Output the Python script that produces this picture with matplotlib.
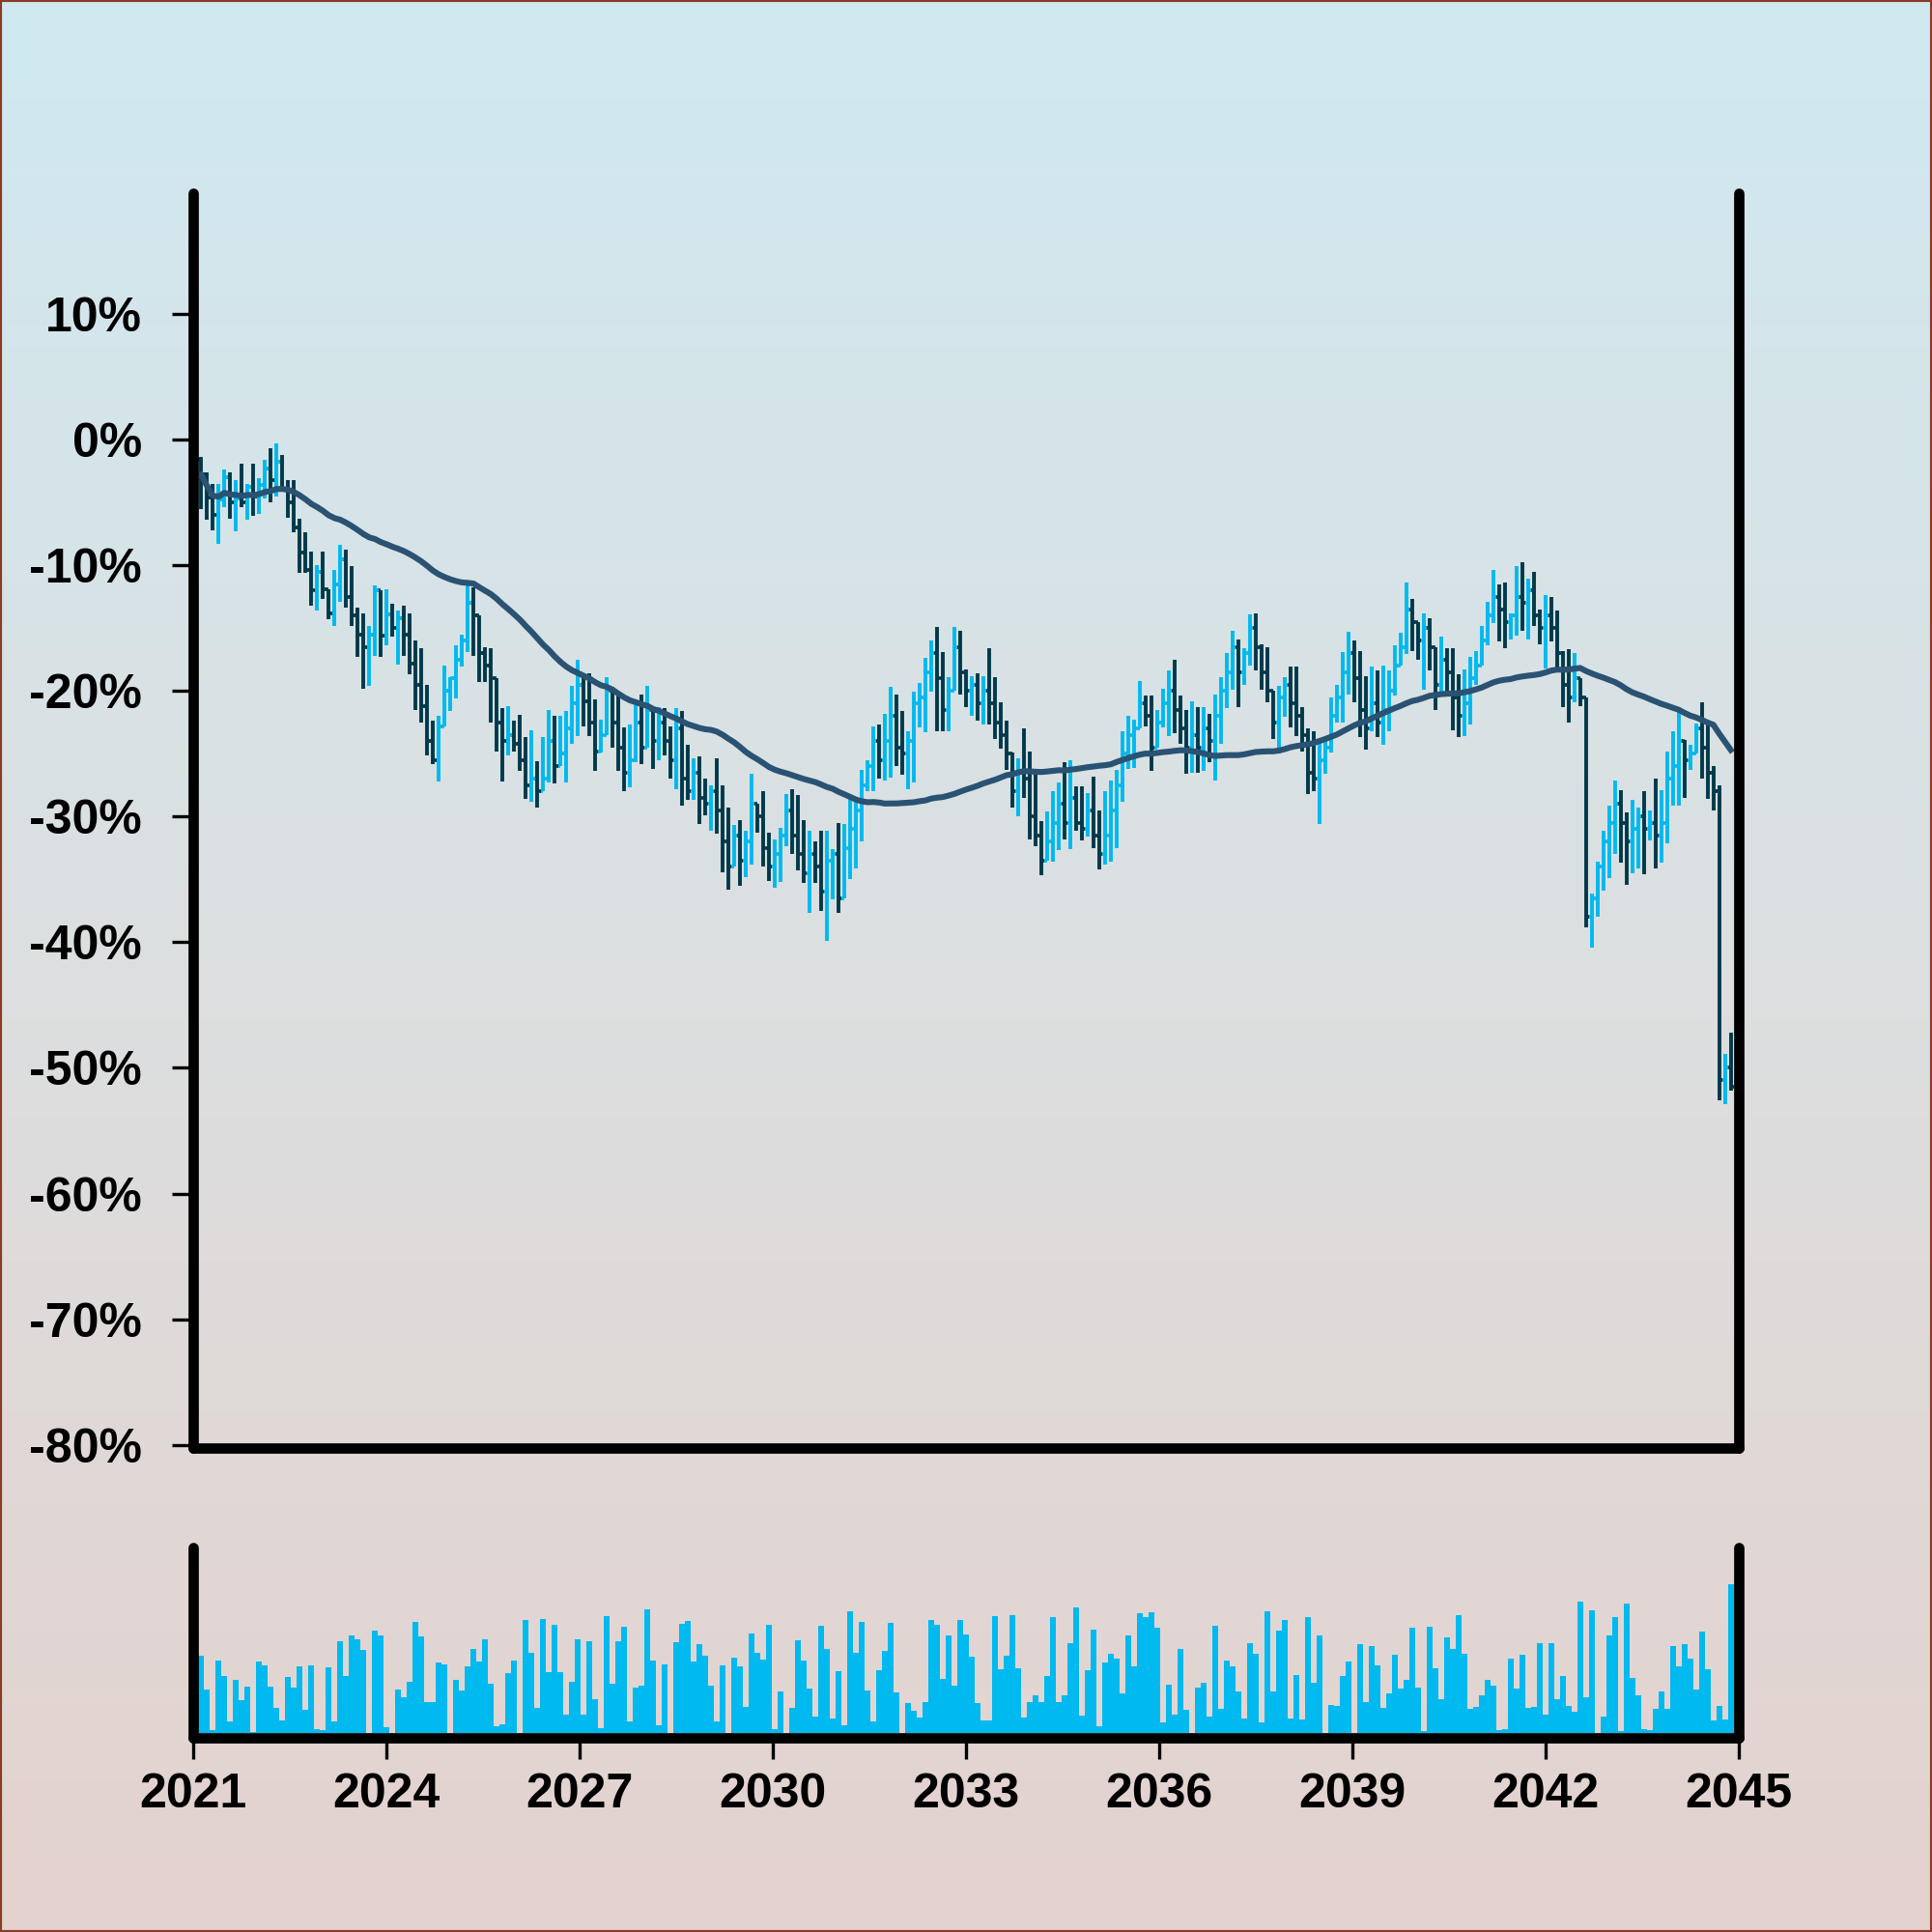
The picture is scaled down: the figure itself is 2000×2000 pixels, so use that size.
import matplotlib
matplotlib.use("Agg")
import matplotlib.pyplot as plt
import matplotlib.colors as mcolors
from matplotlib.patches import Rectangle
import numpy as np
import pandas as pd

plt.rcParams["font.family"] = ["Liberation Sans", "DejaVu Sans"]
plt.rcParams["font.weight"] = "bold"

# monthly-ish OHLC bars, values in % change
first_open = -1.6
close = [
    -2.8, -4.6, -6.0, -4.8, -3.0, -5.0, -4.7, -5.0, -3.8, -4.5,
    -3.6, -2.3, -3.2, -1.8, -3.9, -5.0, -7.0, -9.0, -10.4, -12.0,
    -10.5, -11.9, -13.8, -11.5, -9.5, -12.5, -14.0, -15.5, -16.5, -15.5,
    -12.0, -15.6, -13.9, -15.0, -14.2, -15.5, -17.8, -19.5, -21.2, -24.0,
    -25.5, -22.8, -20.0, -19.0, -17.5, -16.0, -13.0, -14.0, -17.0, -18.0,
    -19.0, -22.5, -24.0, -23.5, -24.2, -25.5, -27.5, -27.0, -28.0, -27.0,
    -24.0, -26.0, -25.0, -23.0, -21.0, -19.5, -20.8, -22.5, -24.8, -23.5,
    -20.0, -22.5, -24.5, -26.5, -25.5, -22.5, -24.5, -21.5, -24.0, -22.5,
    -24.0, -25.5, -23.0, -27.0, -28.0, -26.5, -28.5, -29.0, -28.0, -29.5,
    -32.0, -34.0, -31.5, -33.5, -32.0, -29.0, -30.0, -32.5, -34.0, -33.0,
    -31.5, -29.5, -31.5, -33.0, -34.5, -33.0, -34.0, -36.0, -33.5, -33.0,
    -36.5, -32.5, -31.0, -29.5, -27.5, -26.0, -24.0, -25.5, -24.0, -22.0,
    -24.5, -25.0, -24.0, -21.0, -20.5, -18.5, -17.0, -19.0, -21.5, -20.0,
    -16.5, -18.5, -20.0, -19.5, -21.0, -20.0, -21.0, -22.5, -23.5, -25.0,
    -28.0, -26.5, -27.0, -30.0, -31.5, -33.5, -32.0, -30.5, -29.0, -30.5,
    -28.5, -30.5, -31.0, -29.5, -31.5, -33.0, -31.5, -29.5, -27.5, -25.0,
    -23.5, -23.0, -21.0, -22.0, -24.5, -22.5, -21.0, -20.0, -21.5, -23.0,
    -24.5, -23.5, -24.5, -23.0, -24.0, -22.0, -20.0, -18.5, -16.5, -18.5,
    -17.0, -15.0, -16.5, -18.5, -20.0, -22.5, -20.5, -19.5, -21.0, -22.0,
    -23.5, -26.5, -27.0, -25.5, -24.5, -22.0, -20.5, -18.5, -17.0, -19.0,
    -21.5, -23.0, -21.0, -22.5, -21.5, -20.0, -18.0, -16.5, -13.5, -14.5,
    -16.0, -15.0, -16.5, -19.5, -17.5, -18.5, -20.5, -22.0, -21.0, -19.0,
    -18.0, -16.0, -14.0, -12.5, -13.5, -14.5, -14.0, -12.5, -13.0, -12.0,
    -14.0, -15.0, -14.0, -15.0, -17.0, -19.5, -20.5, -19.0, -20.5, -38.0,
    -36.5, -34.0, -32.0, -30.5, -29.0, -30.5, -32.0, -31.0, -30.0, -31.0,
    -30.5, -31.5, -30.5, -27.0, -26.0, -24.0, -25.5, -25.0, -23.0, -24.5,
    -26.5, -28.0, -51.0, -50.0, -51.5,
]
high = [
    -1.4, -2.6, -3.5, -3.5, -2.4, -2.6, -3.2, -1.9, -3.5, -1.9,
    -3.1, -1.6, -0.7, -0.3, -1.2, -3.2, -3.2, -6.3, -7.4, -8.9,
    -10.0, -8.9, -12.0, -10.4, -8.4, -8.8, -10.1, -13.4, -13.8, -14.8,
    -11.6, -12.1, -11.9, -13.1, -13.6, -13.2, -13.8, -16.0, -16.6, -19.5,
    -22.4, -22.0, -18.0, -18.9, -16.4, -15.5, -11.5, -11.8, -14.3, -16.5,
    -16.6, -20.3, -21.4, -21.2, -22.4, -21.9, -23.7, -23.1, -25.6, -23.7,
    -21.5, -22.0, -22.0, -21.6, -19.6, -17.5, -18.6, -18.6, -20.7, -22.3,
    -18.9, -19.7, -20.2, -22.9, -22.7, -20.9, -20.3, -19.6, -22.1, -21.3,
    -21.4, -22.8, -21.4, -21.6, -24.3, -25.4, -25.2, -27.0, -27.5, -25.4,
    -27.5, -29.3, -30.7, -30.3, -31.1, -26.6, -29.3, -28.0, -31.3, -31.8,
    -30.9, -28.2, -27.8, -28.3, -30.3, -31.1, -32.0, -31.1, -31.1, -32.6,
    -30.5, -30.6, -28.6, -28.6, -26.3, -25.5, -22.8, -22.7, -21.8, -19.7,
    -20.3, -21.6, -23.2, -20.1, -19.4, -17.4, -16.0, -14.9, -16.9, -18.9,
    -14.9, -15.2, -18.3, -18.8, -18.6, -18.8, -16.6, -18.9, -20.9, -22.4,
    -24.9, -25.4, -23.0, -24.8, -26.6, -30.4, -29.6, -28.0, -27.3, -25.7,
    -25.5, -27.6, -27.6, -28.1, -26.8, -29.5, -28.0, -27.1, -26.3, -23.2,
    -22.0, -22.3, -19.2, -20.4, -20.4, -21.5, -19.8, -18.4, -17.5, -20.4,
    -21.5, -20.8, -21.3, -21.3, -21.8, -20.3, -18.9, -17.0, -15.2, -15.9,
    -16.6, -13.9, -13.8, -16.3, -16.5, -20.7, -19.6, -18.9, -18.1, -18.1,
    -21.3, -23.0, -23.2, -23.8, -23.8, -20.5, -19.5, -16.9, -15.3, -16.0,
    -16.8, -18.8, -18.1, -18.4, -18.0, -18.4, -16.4, -15.4, -11.4, -12.7,
    -14.6, -13.8, -14.2, -17.3, -15.7, -16.6, -16.6, -18.7, -18.3, -17.3,
    -16.8, -14.8, -12.9, -10.4, -11.5, -11.4, -13.8, -10.1, -9.8, -11.1,
    -10.5, -13.5, -12.4, -12.5, -13.6, -16.8, -16.7, -17.0, -19.0, -20.5,
    -36.1, -33.6, -31.1, -29.1, -27.1, -27.9, -29.7, -28.7, -29.3, -28.0,
    -29.5, -27.0, -27.9, -24.8, -23.2, -21.6, -23.9, -24.3, -22.6, -20.9,
    -22.7, -26.0, -27.5, -48.9, -47.2,
]
low = [
    -5.5, -6.4, -7.2, -8.3, -5.4, -6.3, -7.3, -5.4, -6.4, -6.1,
    -5.9, -4.7, -5.0, -4.5, -4.0, -6.2, -7.4, -10.6, -10.6, -13.2,
    -13.6, -12.7, -14.3, -14.8, -12.9, -13.4, -14.8, -17.3, -19.8, -19.6,
    -17.2, -17.3, -16.4, -15.7, -17.9, -17.2, -18.7, -21.5, -22.5, -25.1,
    -25.8, -27.2, -22.8, -21.6, -20.6, -18.1, -16.9, -17.2, -19.3, -19.3,
    -22.5, -24.8, -27.2, -25.1, -24.8, -26.4, -28.6, -28.8, -29.3, -27.8,
    -27.3, -27.4, -26.0, -27.3, -24.2, -23.6, -22.8, -23.6, -26.4, -24.9,
    -22.8, -24.5, -26.4, -28.0, -27.7, -25.7, -25.8, -24.3, -26.2, -25.5,
    -25.1, -27.0, -27.8, -29.1, -28.7, -28.7, -30.6, -29.9, -31.1, -31.4,
    -34.4, -35.8, -33.6, -35.5, -34.8, -33.8, -31.3, -34.0, -35.1, -35.7,
    -35.2, -32.4, -33.0, -34.3, -35.3, -37.7, -35.3, -37.5, -39.9, -36.6,
    -37.7, -34.7, -35.0, -34.1, -32.0, -28.0, -28.0, -27.0, -27.1, -26.9,
    -26.0, -26.7, -27.8, -27.3, -22.9, -23.3, -20.1, -23.2, -23.2, -23.2,
    -19.8, -20.3, -21.3, -22.0, -22.4, -22.7, -22.7, -23.8, -24.6, -26.3,
    -29.3, -30.0, -28.5, -31.8, -32.4, -34.7, -33.3, -33.6, -32.7, -31.8,
    -32.6, -31.1, -31.9, -31.6, -32.5, -34.2, -33.8, -33.6, -32.5, -28.8,
    -26.2, -26.1, -22.7, -22.8, -26.4, -24.5, -22.9, -23.6, -23.4, -24.2,
    -26.6, -26.5, -26.5, -26.4, -25.7, -27.1, -24.2, -21.4, -19.9, -21.3,
    -19.5, -18.0, -18.4, -19.9, -20.9, -23.8, -25.0, -22.1, -22.9, -23.6,
    -24.8, -28.2, -28.0, -30.6, -26.6, -24.9, -22.5, -22.5, -20.3, -20.9,
    -23.7, -24.7, -23.2, -23.7, -24.3, -23.2, -20.4, -17.7, -17.1, -16.8,
    -17.5, -19.9, -18.4, -21.5, -20.3, -20.3, -23.1, -23.7, -23.6, -22.7,
    -19.5, -17.9, -16.4, -14.6, -16.1, -16.6, -15.9, -15.6, -15.2, -15.9,
    -14.8, -16.3, -18.2, -16.1, -18.2, -21.3, -22.5, -20.9, -21.2, -38.8,
    -40.4, -38.0, -35.9, -34.9, -33.0, -33.7, -35.4, -34.5, -34.1, -34.6,
    -31.9, -34.1, -33.7, -32.1, -29.1, -29.1, -28.5, -26.3, -24.7, -27.0,
    -28.6, -29.5, -52.6, -52.9, -51.8,
]
volume = [
    240, 135, 10, 225, 178, 35, 165, 103, 143, 2,
    222, 210, 145, 77, 40, 174, 140, 207, 73, 209,
    12, 8, 205, 37, 285, 177, 303, 291, 259, 0,
    317, 303, 18, 0, 135, 110, 160, 344, 299, 95,
    96, 220, 213, 0, 165, 132, 206, 261, 223, 291,
    154, 20, 27, 185, 225, 0, 352, 250, 79, 354,
    190, 336, 189, 57, 160, 290, 56, 284, 106, 15,
    363, 154, 284, 329, 37, 141, 147, 384, 226, 25,
    212, 0, 282, 339, 349, 222, 275, 239, 147, 37,
    210, 0, 233, 206, 81, 309, 250, 229, 335, 13,
    129, 0, 78, 288, 224, 139, 51, 332, 262, 45,
    192, 25, 378, 248, 344, 131, 35, 195, 256, 342,
    125, 0, 92, 70, 48, 96, 350, 336, 168, 303,
    148, 351, 306, 236, 92, 40, 39, 362, 198, 240,
    366, 200, 47, 95, 117, 95, 176, 360, 95, 116,
    279, 390, 54, 196, 320, 22, 218, 245, 232, 123,
    302, 206, 371, 359, 374, 327, 34, 151, 56, 260,
    71, 0, 141, 155, 52, 334, 74, 225, 207, 128,
    45, 278, 247, 32, 377, 130, 317, 352, 45, 179,
    42, 360, 157, 302, 0, 87, 84, 176, 221, 0,
    276, 97, 270, 209, 77, 123, 243, 137, 164, 327,
    142, 6, 329, 201, 104, 296, 261, 366, 245, 74,
    81, 118, 165, 146, 9, 11, 232, 138, 242, 77,
    82, 279, 56, 279, 105, 177, 85, 66, 408, 110,
    381, 0, 51, 303, 360, 7, 402, 170, 118, 12,
    9, 75, 129, 75, 270, 208, 276, 231, 135, 315,
    198, 40, 83, 42, 462,
]
year_ticks = list(range(2021, 2046, 3))
pct_ticks = list(range(-80, 11, 10))

close = np.array(close)
high = np.array(high)
low = np.array(low)
n = len(close)
years = np.linspace(2021.125, 2044.875, n)
step = years[1] - years[0]
opn = np.concatenate([[first_open], close[:-1]])
top = np.maximum.reduce([high, opn, close])
bot = np.minimum.reduce([low, opn, close])

UP = "#00b9ef"
DOWN = "#02394a"
cols = np.where(close >= opn, UP, DOWN)
ma = pd.Series(close).rolling(48, min_periods=1).mean()

fig = plt.figure(figsize=(10, 10), dpi=200)

# gradient background
bg = fig.add_axes([0, 0, 1, 1], zorder=-10)
cmap = mcolors.LinearSegmentedColormap.from_list("bg", ["#d0e9f1", "#dcdfe0", "#e4d2ce"])
bg.imshow(np.linspace(0, 1, 256)[:, None], aspect="auto", cmap=cmap,
          extent=[0, 1, 0, 1], origin="upper")
bg.axis("off")
fig.patches.append(Rectangle((0, 0), 1, 1, transform=fig.transFigure, fill=False,
                             edgecolor="#8a3b24", lw=1.5))

ax = fig.add_axes([0.1, 0.2505, 0.8, 0.6495])
vol = fig.add_axes([0.1, 0.1005, 0.8, 0.0985])
for a in (ax, vol):
    a.patch.set_alpha(0)
    a.spines["top"].set_visible(False)
    for s in ("left", "right", "bottom"):
        a.spines[s].set_linewidth(3.85)
        a.spines[s].set_capstyle("round")

d = 0.05
ax.vlines(years, bot, top, colors=cols, lw=1.4)
ax.hlines(opn, years - d, years, colors=cols, lw=1.3)
ax.hlines(close, years, years + d, colors=cols, lw=1.3)
ax.plot(years, ma, color="#2a5272", lw=2.2)

ax.set_xlim(2021, 2045)
ax.set_ylim(-80.25, 19.6)
ax.set_yticks(pct_ticks)
ax.set_yticklabels([f"{v}%" for v in pct_ticks])
ax.tick_params(axis="y", length=8, width=1.2, pad=11, labelsize=18)
ax.tick_params(axis="x", bottom=False, labelbottom=False)

vol.bar(years, volume, width=step, color=UP, linewidth=0)
vol.set_xlim(2021, 2045)
vol.set_ylim(-15, 576)
vol.set_yticks([])
vol.set_xticks(year_ticks)
vol.set_xticklabels([str(y) for y in year_ticks])
vol.tick_params(axis="x", length=8, width=1.2, pad=5, labelsize=18)

fig.savefig("out.png", dpi=200)
